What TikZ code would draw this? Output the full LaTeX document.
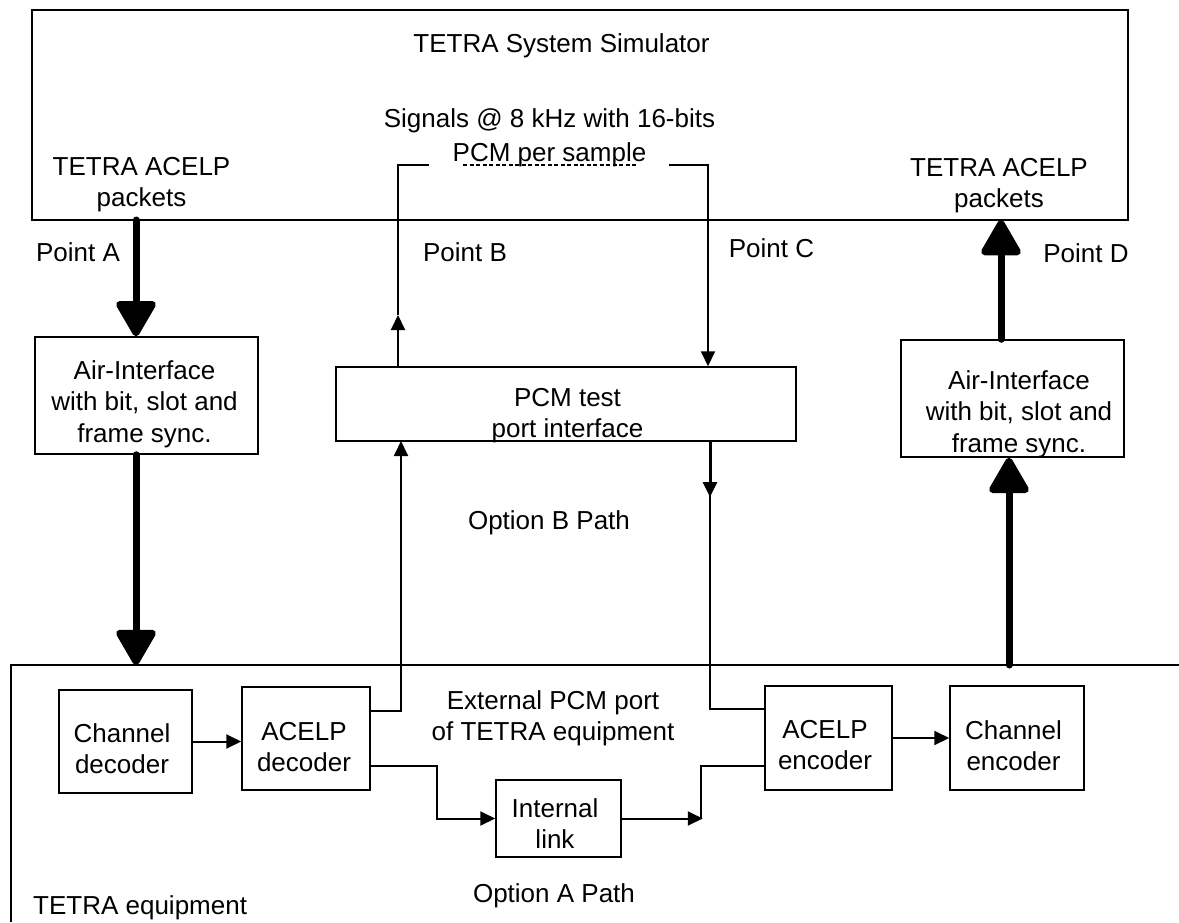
\documentclass[tikz,border=0pt]{standalone}
\usepackage{fontspec}
\setmainfont{Liberation Sans}
\usetikzlibrary{arrows.meta}

\tikzset{
  blk/.style={draw, line width=1.5pt, inner sep=0pt},
  txt/.style={inner sep=0pt, align=center, anchor=north, font=\fontsize{26}{31.5}\selectfont},
  wire/.style={line width=2pt},
  thinarrow/.style={wire, -{Triangle[width=14pt,length=15pt]}},
  fatarrow/.style={line width=7pt, line cap=round, -{Triangle[width=43pt,length=39pt,round]}}
}

\begin{document}
\begin{tikzpicture}[x=1pt,y=-1pt]
\useasboundingbox (0,0) rectangle (1179,922);

\node[blk, minimum width=1096pt, minimum height=210pt] (sim) at (580,115) {};
\node[blk, minimum width=223pt, minimum height=117pt] (airA) at (146.5,395.5) {};
\node[blk, minimum width=223pt, minimum height=117pt] (airD) at (1012.5,398.5) {};
\node[blk, minimum width=460pt, minimum height=74pt] (pcm) at (566,404) {};
\node[blk, minimum width=133pt, minimum height=103pt] (chdec) at (125.5,741.5) {};
\node[blk, minimum width=128pt, minimum height=103pt] (acdec) at (306,738.5) {};
\node[blk, minimum width=127pt, minimum height=104pt] (acenc) at (828.5,738) {};
\node[blk, minimum width=134pt, minimum height=104pt] (chenc) at (1017,738) {};
\node[blk, minimum width=125pt, minimum height=77pt] (link) at (558.5,818.5) {};

\coordinate (eqCorner) at (11,665);
\draw[line width=1.5pt] (11,922) -- (eqCorner) -- (1179,665);

\node[txt] (simTxt) at (561.5,33) {TETRA System Simulator};
\node[txt, font=\fontsize{26}{34}\selectfont] (sigTxt) at (549.5,108) {Signals @ 8 kHz with 16-bits\\PCM per sample};
\node[txt] (pktA) at (141.5,157) {TETRA ACELP\\packets};
\node[txt] (pktD) at (999,158) {TETRA ACELP\\packets};
\node[txt] (ptAtxt) at (78,242) {Point A};
\node[txt] (ptBtxt) at (465,242) {Point B};
\node[txt] (ptCtxt) at (771.5,238) {Point C};
\node[txt] (ptDtxt) at (1086,243) {Point D};
\node[txt] (airAtxt) at (144.5,360) {Air-Interface\\with bit, slot and\\frame sync.};
\node[txt] (airDtxt) at (1019,370) {Air-Interface\\with bit, slot and\\frame sync.};
\node[txt] (pcmTxt) at (567.5,388) {PCM test\\port interface};
\node[txt] (optB) at (549,510) {Option B Path};
\node[txt] (extTxt) at (553,690) {External PCM port\\of TETRA equipment};
\node[txt] (chdecTxt) at (122,723) {Channel\\decoder};
\node[txt] (acdecTxt) at (304,722) {ACELP\\decoder};
\node[txt] (acencTxt) at (825,720) {ACELP\\encoder};
\node[txt] (chencTxt) at (1013.5,720) {Channel\\encoder};
\node[txt] (linkTxt) at (555,798) {Internal\\link};
\node[txt] (optA) at (554,883) {Option A Path};
\node[txt, anchor=north west] (equipTxt) at (33,895) {TETRA equipment};

\coordinate (ptA) at (136,220);
\coordinate (ptD) at (1001,220);
\coordinate (ptDlow) at (1009,665);
\draw[fatarrow] (ptA) -- (ptA |- airA.north);
\draw[fatarrow] (ptA |- airA.south) -- (ptA |- eqCorner);
\draw[fatarrow] (ptD |- airD.north) -- (ptD);
\draw[fatarrow] (ptDlow) -- (ptDlow |- airD.south);

\coordinate (ptB) at (398,315);
\coordinate (brkL) at (398,165);
\coordinate (brkR) at (708,165);
\draw[thinarrow] (pcm.north -| ptB) -- (ptB);
\draw[wire] (ptB) -- (brkL) -- ++(31,0);
\draw[wire, line width=1.5pt, dash pattern=on 4pt off 2.5pt] (463,165) -- (638,165);
\draw[thinarrow] (669,165) -- (brkR) -- (brkR |- pcm.north);

\coordinate (decOutB) at (370,711);
\coordinate (pcmInB) at (401,441);
\draw[thinarrow] (decOutB) -- (decOutB -| pcmInB) -- (pcmInB);

\coordinate (pcmOutC) at (710,441);
\coordinate (encInC) at (765,709);
\draw[thinarrow, line width=3pt] (pcmOutC) -- ++(0,56);
\draw[wire] (pcmOutC) -- (pcmOutC |- encInC) -- (encInC);

\draw[thinarrow] (chdec.east) -- (chdec.east -| acdec.west);
\draw[thinarrow] (acenc.east) -- (acenc.east -| chenc.west);

\coordinate (decOutA) at (370,766);
\coordinate (encInA) at (765,766);
\draw[thinarrow] (decOutA) -- ++(67,0) |- (link.west);
\draw[thinarrow] (link.east) -- ++(81,0);
\draw[wire] (link.east) ++(79,0) coordinate (joinA) -- (joinA |- encInA) -- (encInA);
\end{tikzpicture}
\end{document}
